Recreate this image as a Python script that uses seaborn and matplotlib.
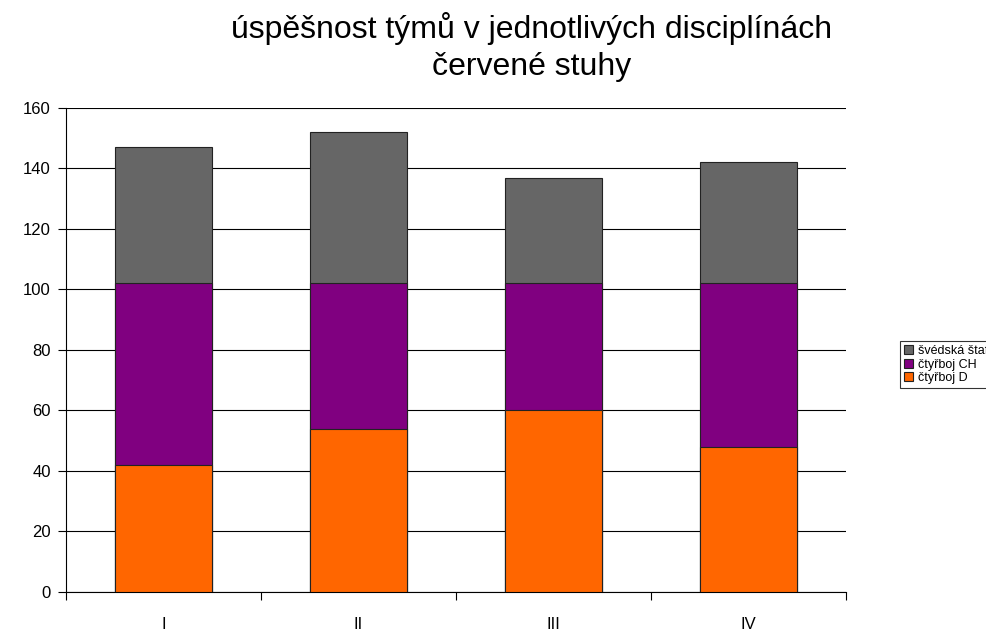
import numpy as np
import pandas as pd
import matplotlib.pyplot as plt
import seaborn as sns
from matplotlib.patches import Patch

teams = ["I", "II", "III", "IV"]
ctyrboj_d = [42, 54, 60, 48]
ctyrboj_ch = [60, 48, 42, 54]
svedska = [45, 50, 35, 40]
series_names = ["švédská štafeta", "čtyřboj CH", "čtyřboj D"]
colors = ["#666666", "#800080", "#FF6600"]
title_lines = ["úspěšnost týmů v jednotlivých disciplínách", "červené stuhy"]

sns.set_style("white")
plt.rcParams['font.family'] = ['Liberation Sans', 'DejaVu Sans']
plt.rcParams['text.color'] = 'black'
plt.rcParams['xtick.color'] = 'black'
plt.rcParams['ytick.color'] = 'black'

df = pd.DataFrame({"team": teams, "d": ctyrboj_d, "ch": ctyrboj_ch, "sv": svedska})
df["lvl2"] = df["d"] + df["ch"]
df["lvl3"] = df["lvl2"] + df["sv"]

fig = plt.figure(figsize=(9.87, 6.33), dpi=100)
ax = fig.add_axes([0.0669, 0.0648, 0.857 - 0.0669, 0.8294 - 0.0648])

# stacked bars: draw cumulative heights, tallest first
for col, c in zip(["lvl3", "lvl2", "d"], colors):
    sns.barplot(data=df, x="team", y=col, color=c, width=0.5, saturation=1,
                edgecolor="#222222", linewidth=0.8, ax=ax, zorder=3)

ax.set_ylim(0, 160)
ax.set_xlim(-0.5, 3.5)
ax.set_yticks(range(0, 161, 20))
ax.yaxis.grid(True, color="black", linewidth=0.8)
ax.set_axisbelow(True)
ax.set_xlabel("")
ax.set_ylabel("")
for s in ["top", "right"]:
    ax.spines[s].set_visible(False)
for s in ["left", "bottom"]:
    ax.spines[s].set_color("black")
    ax.spines[s].set_linewidth(0.8)
ax.tick_params(axis="y", length=6, width=0.8, labelsize=12, pad=5, left=True)
ax.tick_params(axis="x", which="major", length=0, labelsize=12, pad=18)
ax.set_xticks(np.arange(-0.5, 4, 1), minor=True)
ax.tick_params(axis="x", which="minor", length=6, width=0.8, bottom=True)

fig.text(0.539, 1 - 38 / 633, title_lines[0], ha="center", va="baseline", fontsize=23)
fig.text(0.539, 1 - 75 / 633, title_lines[1], ha="center", va="baseline", fontsize=23)

# legend runs off the right edge, as in the original
handles = [Patch(facecolor=c, edgecolor="#222222", linewidth=0.8) for c in colors]
leg = fig.legend(handles, series_names, loc="center left", bbox_to_anchor=(0.912, 0.424),
                 frameon=True, fancybox=False, edgecolor="black", fontsize=9,
                 handlelength=0.75, handleheight=0.75, handletextpad=0.4,
                 labelspacing=0.12, borderpad=0.3, borderaxespad=0)
leg.get_frame().set_linewidth(0.8)

fig.savefig("out.png", dpi=100)
